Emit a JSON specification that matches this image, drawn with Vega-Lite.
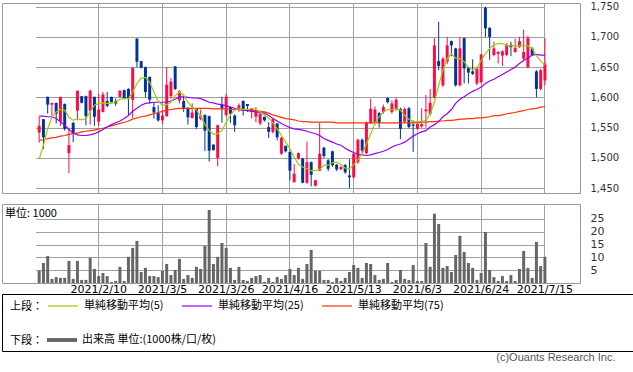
{
"$schema": "https://vega.github.io/schema/vega-lite/v6.json",
"padding": {"left": 1, "top": 1, "right": 0, "bottom": 0},
"bounds": "flush",
"spacing": 11,
"title": {"text": "(c)Ouants Research Inc.", "orient": "bottom", "anchor": "end", "fontSize": 11, "fontWeight": "normal", "color": "#555555", "font": "Liberation Sans", "offset": 0, "dx": -18},
"config": {
 "font": "DejaVu Sans",
 "view": {"stroke": "#999999", "strokeWidth": 1},
 "axis": {"gridColor": "#a0a0a0", "gridWidth": 1, "gridOpacity": 1, "domain": false, "ticks": false, "labelFont": "DejaVu Sans", "labelFontSize": 11, "labelColor": "#333333", "title": null, "labelOverlap": false},
 "legend": {"labelFont": "Noto Sans CJK JP", "labelFontSize": 11, "titleFont": "Noto Sans CJK JP", "titleFontSize": 11, "titleFontWeight": "normal", "labelColor": "#000000", "titleColor": "#000000", "padding": 0, "titleOrient": "left", "titleAnchor": "middle", "titleBaseline": "top", "titlePadding": 4, "direction": "horizontal", "orient": "none", "labelOffset": 5, "columnPadding": 15}
},
"datasets": {"ohlc": [
{"d":"2021/1/21","o":1542,"h":1568,"l":1525,"c":1553,"v":4.9,"m5":1498,"m25":1569,"m75":1529},
{"d":"2021/1/22","o":1564,"h":1564,"l":1515,"c":1534,"v":7.8,"m5":1521,"m25":1569,"m75":1530},
{"d":"2021/1/25","o":1601,"h":1601,"l":1573,"c":1588,"v":10.5,"m5":1548,"m25":1568,"m75":1532},
{"d":"2021/1/26","o":1588,"h":1591,"l":1570,"c":1591,"v":1.6,"m5":1567,"m25":1568,"m75":1533},
{"d":"2021/1/27","o":1591,"h":1591,"l":1557,"c":1573,"v":2.3,"m5":1576,"m25":1565,"m75":1534},
{"d":"2021/1/28","o":1560,"h":1601,"l":1553,"c":1601,"v":2.0,"m5":1580,"m25":1560,"m75":1536},
{"d":"2021/1/29","o":1589,"h":1590,"l":1545,"c":1548,"v":2.0,"m5":1579,"m25":1554,"m75":1537},
{"d":"2021/2/1","o":1508,"h":1550,"l":1475,"c":1521,"v":8.6,"m5":1567,"m25":1547,"m75":1539},
{"d":"2021/2/2","o":1558,"h":1559,"l":1526,"c":1540,"v":1.6,"m5":1562,"m25":1541,"m75":1540},
{"d":"2021/2/3","o":1578,"h":1611,"l":1562,"c":1611,"v":8.6,"m5":1565,"m25":1538,"m75":1541},
{"d":"2021/2/4","o":1602,"h":1602,"l":1590,"c":1591,"v":1.2,"m5":1563,"m25":1537,"m75":1543},
{"d":"2021/2/5","o":1602,"h":1603,"l":1554,"c":1569,"v":1.2,"m5":1565,"m25":1537,"m75":1544},
{"d":"2021/2/8","o":1578,"h":1613,"l":1555,"c":1611,"v":9.8,"m5":1576,"m25":1538,"m75":1545},
{"d":"2021/2/9","o":1601,"h":1601,"l":1553,"c":1568,"v":5.5,"m5":1587,"m25":1540,"m75":1546},
{"d":"2021/2/10","o":1560,"h":1606,"l":1553,"c":1580,"v":2.7,"m5":1590,"m25":1543,"m75":1548},
{"d":"2021/2/12","o":1576,"h":1609,"l":1575,"c":1605,"v":3.9,"m5":1591,"m25":1547,"m75":1549},
{"d":"2021/2/15","o":1594,"h":1609,"l":1584,"c":1586,"v":2.7,"m5":1590,"m25":1551,"m75":1551},
{"d":"2021/2/16","o":1601,"h":1601,"l":1592,"c":1592,"v":0.4,"m5":1590,"m25":1555,"m75":1553},
{"d":"2021/2/17","o":1594,"h":1598,"l":1586,"c":1590,"v":0.8,"m5":1593,"m25":1558,"m75":1555},
{"d":"2021/2/18","o":1601,"h":1612,"l":1600,"c":1611,"v":6.3,"m5":1597,"m25":1561,"m75":1557},
{"d":"2021/2/19","o":1612,"h":1613,"l":1597,"c":1598,"v":0.8,"m5":1598,"m25":1565,"m75":1559},
{"d":"2021/2/22","o":1614,"h":1615,"l":1570,"c":1598,"v":10.2,"m5":1598,"m25":1570,"m75":1561},
{"d":"2021/2/24","o":1596,"h":1650,"l":1566,"c":1649,"v":13.7,"m5":1609,"m25":1577,"m75":1564},
{"d":"2021/2/25","o":1697,"h":1698,"l":1650,"c":1659,"v":16.4,"m5":1623,"m25":1582,"m75":1566},
{"d":"2021/2/26","o":1660,"h":1660,"l":1648,"c":1649,"v":4.3,"m5":1632,"m25":1587,"m75":1568},
{"d":"2021/3/1","o":1650,"h":1651,"l":1600,"c":1609,"v":5.9,"m5":1633,"m25":1590,"m75":1569},
{"d":"2021/3/2","o":1634,"h":1634,"l":1590,"c":1596,"v":2.7,"m5":1625,"m25":1591,"m75":1571},
{"d":"2021/3/3","o":1584,"h":1592,"l":1565,"c":1575,"v":2.7,"m5":1609,"m25":1592,"m75":1573},
{"d":"2021/3/4","o":1574,"h":1587,"l":1560,"c":1562,"v":2.3,"m5":1594,"m25":1592,"m75":1575},
{"d":"2021/3/5","o":1562,"h":1579,"l":1556,"c":1570,"v":4.7,"m5":1587,"m25":1592,"m75":1577},
{"d":"2021/3/8","o":1569,"h":1650,"l":1568,"c":1621,"v":7.4,"m5":1588,"m25":1592,"m75":1579},
{"d":"2021/3/9","o":1602,"h":1632,"l":1598,"c":1626,"v":3.1,"m5":1592,"m25":1594,"m75":1580},
{"d":"2021/3/10","o":1651,"h":1652,"l":1612,"c":1614,"v":5.1,"m5":1603,"m25":1597,"m75":1581},
{"d":"2021/3/11","o":1595,"h":1612,"l":1590,"c":1610,"v":9.4,"m5":1609,"m25":1601,"m75":1582},
{"d":"2021/3/12","o":1594,"h":1603,"l":1576,"c":1581,"v":1.6,"m5":1604,"m25":1601,"m75":1582},
{"d":"2021/3/15","o":1581,"h":1584,"l":1555,"c":1567,"v":3.1,"m5":1592,"m25":1600,"m75":1582},
{"d":"2021/3/16","o":1566,"h":1590,"l":1565,"c":1575,"v":2.0,"m5":1584,"m25":1599,"m75":1582},
{"d":"2021/3/17","o":1581,"h":1582,"l":1548,"c":1551,"v":6.3,"m5":1579,"m25":1599,"m75":1582},
{"d":"2021/3/18","o":1564,"h":1580,"l":1562,"c":1570,"v":5.5,"m5":1569,"m25":1598,"m75":1582},
{"d":"2021/3/19","o":1571,"h":1572,"l":1511,"c":1545,"v":14.5,"m5":1555,"m25":1595,"m75":1582},
{"d":"2021/3/22","o":1569,"h":1570,"l":1494,"c":1512,"v":28.5,"m5":1545,"m25":1592,"m75":1582},
{"d":"2021/3/23","o":1522,"h":1522,"l":1512,"c":1513,"v":7.4,"m5":1539,"m25":1591,"m75":1581},
{"d":"2021/3/24","o":1500,"h":1555,"l":1486,"c":1554,"v":10.2,"m5":1540,"m25":1589,"m75":1581},
{"d":"2021/3/25","o":1588,"h":1601,"l":1558,"c":1582,"v":15.6,"m5":1545,"m25":1588,"m75":1581},
{"d":"2021/3/26","o":1571,"h":1606,"l":1568,"c":1601,"v":13.7,"m5":1559,"m25":1586,"m75":1581},
{"d":"2021/3/29","o":1584,"h":1585,"l":1558,"c":1573,"v":5.9,"m5":1571,"m25":1584,"m75":1580},
{"d":"2021/3/30","o":1570,"h":1572,"l":1543,"c":1554,"v":1.2,"m5":1579,"m25":1582,"m75":1580},
{"d":"2021/3/31","o":1579,"h":1590,"l":1576,"c":1587,"v":6.3,"m5":1581,"m25":1580,"m75":1580},
{"d":"2021/4/1","o":1594,"h":1595,"l":1570,"c":1581,"v":1.2,"m5":1580,"m25":1579,"m75":1579},
{"d":"2021/4/2","o":1589,"h":1589,"l":1576,"c":1586,"v":0.8,"m5":1580,"m25":1578,"m75":1579},
{"d":"2021/4/5","o":1576,"h":1582,"l":1565,"c":1581,"v":2.0,"m5":1582,"m25":1577,"m75":1578},
{"d":"2021/4/6","o":1568,"h":1584,"l":1559,"c":1579,"v":2.7,"m5":1580,"m25":1576,"m75":1578},
{"d":"2021/4/7","o":1557,"h":1576,"l":1554,"c":1573,"v":3.1,"m5":1576,"m25":1575,"m75":1577},
{"d":"2021/4/8","o":1568,"h":1568,"l":1560,"c":1562,"v":0.4,"m5":1571,"m25":1574,"m75":1576},
{"d":"2021/4/9","o":1551,"h":1559,"l":1533,"c":1543,"v":2.0,"m5":1566,"m25":1570,"m75":1574},
{"d":"2021/4/12","o":1543,"h":1565,"l":1540,"c":1564,"v":0.4,"m5":1558,"m25":1565,"m75":1571},
{"d":"2021/4/13","o":1557,"h":1557,"l":1529,"c":1534,"v":2.3,"m5":1548,"m25":1561,"m75":1569},
{"d":"2021/4/14","o":1507,"h":1535,"l":1505,"c":1533,"v":1.6,"m5":1537,"m25":1557,"m75":1567},
{"d":"2021/4/15","o":1520,"h":1520,"l":1509,"c":1511,"v":3.1,"m5":1526,"m25":1553,"m75":1565},
{"d":"2021/4/16","o":1510,"h":1510,"l":1463,"c":1479,"v":5.5,"m5":1515,"m25":1550,"m75":1564},
{"d":"2021/4/19","o":1460,"h":1490,"l":1459,"c":1474,"v":3.1,"m5":1501,"m25":1548,"m75":1563},
{"d":"2021/4/20","o":1499,"h":1509,"l":1497,"c":1508,"v":5.9,"m5":1490,"m25":1547,"m75":1561},
{"d":"2021/4/21","o":1499,"h":1500,"l":1458,"c":1459,"v":1.6,"m5":1485,"m25":1546,"m75":1560},
{"d":"2021/4/22","o":1459,"h":1527,"l":1457,"c":1493,"v":7.4,"m5":1482,"m25":1544,"m75":1560},
{"d":"2021/4/23","o":1493,"h":1494,"l":1453,"c":1472,"v":12.9,"m5":1479,"m25":1542,"m75":1559},
{"d":"2021/4/26","o":1454,"h":1464,"l":1453,"c":1463,"v":4.7,"m5":1479,"m25":1540,"m75":1559},
{"d":"2021/4/27","o":1479,"h":1558,"l":1478,"c":1507,"v":4.7,"m5":1481,"m25":1537,"m75":1559},
{"d":"2021/4/28","o":1517,"h":1518,"l":1500,"c":1503,"v":1.2,"m5":1488,"m25":1532,"m75":1559},
{"d":"2021/4/30","o":1496,"h":1498,"l":1478,"c":1482,"v":1.2,"m5":1488,"m25":1529,"m75":1559},
{"d":"2021/5/6","o":1511,"h":1512,"l":1485,"c":1488,"v":0.4,"m5":1492,"m25":1526,"m75":1559},
{"d":"2021/5/7","o":1489,"h":1490,"l":1478,"c":1481,"v":2.0,"m5":1493,"m25":1523,"m75":1558},
{"d":"2021/5/10","o":1481,"h":1487,"l":1480,"c":1485,"v":0.8,"m5":1489,"m25":1521,"m75":1558},
{"d":"2021/5/11","o":1488,"h":1490,"l":1474,"c":1476,"v":2.0,"m5":1483,"m25":1516,"m75":1558},
{"d":"2021/5/12","o":1471,"h":1498,"l":1450,"c":1468,"v":4.3,"m5":1482,"m25":1512,"m75":1558},
{"d":"2021/5/13","o":1468,"h":1508,"l":1466,"c":1507,"v":7.0,"m5":1489,"m25":1509,"m75":1558},
{"d":"2021/5/14","o":1493,"h":1532,"l":1490,"c":1530,"v":5.9,"m5":1497,"m25":1506,"m75":1558},
{"d":"2021/5/17","o":1530,"h":1532,"l":1508,"c":1512,"v":2.0,"m5":1507,"m25":1505,"m75":1558},
{"d":"2021/5/18","o":1508,"h":1560,"l":1506,"c":1558,"v":7.8,"m5":1523,"m25":1504,"m75":1558},
{"d":"2021/5/19","o":1558,"h":1598,"l":1556,"c":1581,"v":7.4,"m5":1540,"m25":1505,"m75":1558},
{"d":"2021/5/20","o":1559,"h":1585,"l":1555,"c":1580,"v":3.1,"m5":1557,"m25":1507,"m75":1558},
{"d":"2021/5/21","o":1574,"h":1576,"l":1550,"c":1558,"v":1.2,"m5":1568,"m25":1509,"m75":1558},
{"d":"2021/5/24","o":1576,"h":1588,"l":1573,"c":1584,"v":1.6,"m5":1576,"m25":1511,"m75":1558},
{"d":"2021/5/25","o":1599,"h":1600,"l":1590,"c":1592,"v":7.8,"m5":1580,"m25":1514,"m75":1558},
{"d":"2021/5/26","o":1576,"h":1595,"l":1573,"c":1590,"v":0.4,"m5":1580,"m25":1518,"m75":1558},
{"d":"2021/5/27","o":1581,"h":1600,"l":1578,"c":1596,"v":1.2,"m5":1581,"m25":1521,"m75":1558},
{"d":"2021/5/28","o":1581,"h":1583,"l":1531,"c":1548,"v":5.1,"m5":1579,"m25":1523,"m75":1558},
{"d":"2021/5/31","o":1560,"h":1583,"l":1558,"c":1581,"v":1.6,"m5":1570,"m25":1526,"m75":1558},
{"d":"2021/6/1","o":1582,"h":1584,"l":1549,"c":1551,"v":1.2,"m5":1564,"m25":1531,"m75":1558},
{"d":"2021/6/2","o":1555,"h":1562,"l":1510,"c":1553,"v":7.0,"m5":1560,"m25":1536,"m75":1558},
{"d":"2021/6/3","o":1548,"h":1560,"l":1547,"c":1556,"v":0.8,"m5":1560,"m25":1540,"m75":1558},
{"d":"2021/6/4","o":1552,"h":1582,"l":1550,"c":1556,"v":0.8,"m5":1560,"m25":1543,"m75":1559},
{"d":"2021/6/7","o":1577,"h":1604,"l":1550,"c":1580,"v":15.6,"m5":1562,"m25":1545,"m75":1559},
{"d":"2021/6/8","o":1573,"h":1614,"l":1570,"c":1591,"v":6.3,"m5":1573,"m25":1551,"m75":1560},
{"d":"2021/6/9","o":1600,"h":1698,"l":1598,"c":1686,"v":27.0,"m5":1592,"m25":1555,"m75":1560},
{"d":"2021/6/10","o":1660,"h":1725,"l":1645,"c":1652,"v":23.0,"m5":1620,"m25":1560,"m75":1561},
{"d":"2021/6/11","o":1620,"h":1667,"l":1617,"c":1664,"v":5.9,"m5":1645,"m25":1568,"m75":1561},
{"d":"2021/6/14","o":1659,"h":1700,"l":1655,"c":1686,"v":6.6,"m5":1664,"m25":1573,"m75":1562},
{"d":"2021/6/15","o":1693,"h":1694,"l":1668,"c":1686,"v":4.3,"m5":1672,"m25":1580,"m75":1562},
{"d":"2021/6/16","o":1681,"h":1682,"l":1618,"c":1620,"v":10.9,"m5":1665,"m25":1590,"m75":1563},
{"d":"2021/6/17","o":1620,"h":1700,"l":1618,"c":1681,"v":18.4,"m5":1664,"m25":1597,"m75":1564},
{"d":"2021/6/18","o":1698,"h":1699,"l":1623,"c":1648,"v":12.1,"m5":1659,"m25":1601,"m75":1564},
{"d":"2021/6/21","o":1649,"h":1650,"l":1623,"c":1641,"v":7.8,"m5":1650,"m25":1606,"m75":1565},
{"d":"2021/6/22","o":1643,"h":1663,"l":1637,"c":1639,"v":5.9,"m5":1645,"m25":1610,"m75":1565},
{"d":"2021/6/23","o":1623,"h":1650,"l":1620,"c":1648,"v":1.2,"m5":1648,"m25":1613,"m75":1566},
{"d":"2021/6/24","o":1625,"h":1672,"l":1623,"c":1671,"v":3.9,"m5":1661,"m25":1617,"m75":1566},
{"d":"2021/6/25","o":1748,"h":1750,"l":1700,"c":1714,"v":19.9,"m5":1672,"m25":1623,"m75":1567},
{"d":"2021/6/28","o":1715,"h":1716,"l":1662,"c":1700,"v":5.1,"m5":1681,"m25":1627,"m75":1568},
{"d":"2021/6/29","o":1670,"h":1692,"l":1668,"c":1681,"v":2.3,"m5":1687,"m25":1630,"m75":1570},
{"d":"2021/6/30","o":1672,"h":1677,"l":1656,"c":1675,"v":0.8,"m5":1689,"m25":1634,"m75":1570},
{"d":"2021/7/1","o":1669,"h":1678,"l":1652,"c":1676,"v":2.7,"m5":1689,"m25":1638,"m75":1571},
{"d":"2021/7/2","o":1670,"h":1690,"l":1668,"c":1687,"v":0.8,"m5":1686,"m25":1642,"m75":1573},
{"d":"2021/7/5","o":1687,"h":1692,"l":1668,"c":1683,"v":3.1,"m5":1685,"m25":1646,"m75":1574},
{"d":"2021/7/6","o":1675,"h":1697,"l":1674,"c":1682,"v":0.8,"m5":1685,"m25":1650,"m75":1575},
{"d":"2021/7/7","o":1683,"h":1700,"l":1682,"c":1693,"v":5.5,"m5":1685,"m25":1656,"m75":1577},
{"d":"2021/7/8","o":1664,"h":1712,"l":1660,"c":1675,"v":12.5,"m5":1685,"m25":1661,"m75":1578},
{"d":"2021/7/9","o":1650,"h":1702,"l":1648,"c":1698,"v":5.9,"m5":1685,"m25":1665,"m75":1580},
{"d":"2021/7/12","o":1681,"h":1683,"l":1668,"c":1670,"v":2.0,"m5":1681,"m25":1670,"m75":1581},
{"d":"2021/7/13","o":1643,"h":1645,"l":1600,"c":1614,"v":16.0,"m5":1669,"m25":1671,"m75":1582},
{"d":"2021/7/14","o":1614,"h":1647,"l":1612,"c":1645,"v":6.6,"m5":1660,"m25":1670,"m75":1584},
{"d":"2021/7/15","o":1628,"h":1698,"l":1620,"c":1656,"v":10.2,"m5":1654,"m25":1670,"m75":1585}
]},
"vconcat": [
 {
  "width": 578, "height": 190,
  "data": {"name": "ohlc"},
  "layer": [
   {"mark": {"type": "rule", "strokeWidth": 1},
    "encoding": {
     "x": {"field": "d", "type": "ordinal", "sort": null, "bandPosition": 0.5,
           "scale": {"type": "band", "paddingInner": 0.3, "paddingOuter": 0, "range": [35.7, 544.4]},
           "axis": {"values": ["2021/2/10","2021/3/5","2021/3/26","2021/4/16","2021/5/13","2021/6/3","2021/6/24","2021/7/15"], "labels": false, "grid": true, "title": null}},
     "y": {"field": "l", "type": "quantitative", "scale": {"domain": [1442, 1756], "nice": false, "zero": false},
           "axis": {"orient": "right", "values": [1450,1500,1550,1600,1650,1700,1750], "format": ",.0f", "grid": true, "labelPadding": 10, "labelFontSize": 10, "title": null}},
     "y2": {"field": "h"},
     "color": {"condition": {"test": "datum.c >= datum.o", "value": "#ff0a45"}, "value": "#003399"}
    }},
   {"mark": {"type": "bar"},
    "encoding": {
     "x": {"field": "d", "type": "ordinal", "sort": null},
     "y": {"field": "o", "type": "quantitative",
           "axis": {"orient": "right", "values": [1450,1500,1550,1600,1650,1700,1750], "format": ",.0f", "grid": true, "labelPadding": 10, "labelFontSize": 10, "title": null}},
     "y2": {"field": "c"},
     "color": {"condition": {"test": "datum.c >= datum.o", "value": "#ff0a45"}, "value": "#003399"}
    }},
   {"transform": [{"fold": ["m75", "m25", "m5"], "as": ["ma", "val"]}],
    "mark": {"type": "line", "strokeWidth": 1.2},
    "encoding": {
     "x": {"field": "d", "type": "ordinal", "sort": null, "bandPosition": 0.5},
     "y": {"field": "val", "type": "quantitative",
           "axis": {"orient": "right", "values": [1450,1500,1550,1600,1650,1700,1750], "format": ",.0f", "grid": true, "labelPadding": 10, "labelFontSize": 10, "title": null}},
     "stroke": {"field": "ma", "type": "nominal",
       "scale": {"domain": ["m5", "m25", "m75"], "range": ["#99cc00", "#9900ff", "#ff3300"]},
       "legend": {"title": "上段：", "symbolType": "stroke", "symbolSize": 900, "symbolStrokeWidth": 1.2, "legendX": 8, "legendY": 287,
         "labelExpr": "datum.label == 'm5' ? '単純移動平均(5)' : datum.label == 'm25' ? '単純移動平均(25)' : '単純移動平均(75)'"}}
    }}
  ]
 },
 {
  "width": 578, "height": 79,
  "data": {"name": "ohlc"},
  "title": {"text": "単位: 1000", "anchor": "start", "orient": "top", "offset": -15, "dx": 3, "fontSize": 11, "fontWeight": "normal", "font": "Noto Sans CJK JP", "color": "#000000"},
  "mark": {"type": "bar"},
  "encoding": {
   "x": {"field": "d", "type": "ordinal", "sort": null,
         "scale": {"type": "band", "paddingInner": 0.3, "paddingOuter": 0, "range": [35.7, 544.4]},
         "axis": {"values": ["2021/2/10","2021/3/5","2021/3/26","2021/4/16","2021/5/13","2021/6/3","2021/6/24","2021/7/15"], "labelAngle": 0, "labelPadding": 0, "grid": true, "labelColor": "#000000", "title": null}},
   "y": {"field": "v", "type": "quantitative", "scale": {"domain": [0, 30.8], "nice": false},
         "axis": {"orient": "right", "values": [5,10,15,20,25], "format": "d", "grid": true, "labelPadding": 10, "title": null}},
   "fill": {"datum": "出来高 単位:(1000株/口/枚)", "type": "nominal", "scale": {"range": ["#666666"]},
            "legend": {"title": "下段：", "symbolType": "M-1,-0.13H1V0.13H-1Z", "symbolSize": 900, "symbolStrokeWidth": 0, "legendX": 8, "legendY": 322}}
  }
 },
 {
  "width": 631, "height": 57,
  "view": {"stroke": "#000000", "strokeWidth": 1},
  "data": {"values": [{}]},
  "mark": {"type": "point", "opacity": 0},
  "encoding": {}
 }
]
}
